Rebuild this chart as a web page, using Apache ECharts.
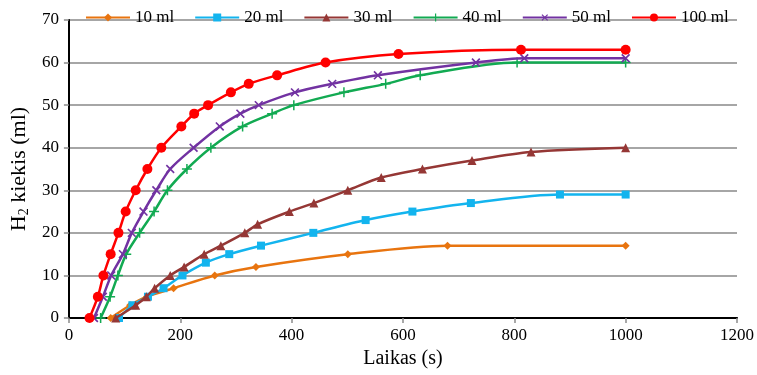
<!DOCTYPE html>
<html>
<head>
<meta charset="utf-8">
<script src="https://cdn.jsdelivr.net/npm/echarts@6/dist/echarts.min.js"></script>
<style>
  html, body { margin: 0; padding: 0; background: #fff; }
  #chart { width: 757px; height: 375px; }
</style>
</head>
<body>
<div id="chart"></div>
<script>
// Hydrogen volume (ml) versus time (s) for each sample volume
const seriesNames = ['10 ml', '20 ml', '30 ml', '40 ml', '50 ml', '100 ml'];

const ml10 = [[75,0],[110,3],[140,5],[188,7],[262,10],[336,12],[501,15],[680,17],[1000,17]];
const ml20 = [[90,0],[114,3],[142,5],[170,7],[204,10],[246,13],[288,15],[345,17],[439,20],[533,23],[617,25],[722,27],[882,29],[1000,29]];
const ml30 = [[84,0],[120,3],[139,5],[154,7],[182,10],[207,12],[243,15],[273,17],[316,20],[339,22],[396,25],[440,27],[501,30],[561,33],[635,35],[724,37],[830,39],[1000,40]];
const ml40 = [[57,0],[74,5],[88,10],[103,15],[127,20],[153,25],[177,30],[212,35],[255,40],[312,45],[365,48],[404,50],[494,53],[569,55],[631,57],[805,60],[1000,60]];
const ml50 = [[45,0],[61,5],[76,10],[97,15],[113,20],[134,25],[157,30],[182,35],[224,40],[271,45],[308,48],[341,50],[406,53],[473,55],[555,57],[731,60],[818,61],[1000,61]];
const ml100 = [[37,0],[52,5],[62,10],[75,15],[89,20],[102,25],[120,30],[141,35],[166,40],[202,45],[225,48],[250,50],[291,53],[323,55],[374,57],[461,60],[592,62],[812,63],[1000,63]];

const xTicks = { min: 0, max: 1200, step: 200 };
const yTicks = { min: 0, max: 70, step: 10 };

const colors = ['#E8740F', '#13B4EE', '#953735', '#12AA52', '#7232A2', '#FF0000'];
const serif = 'Liberation Serif, Times New Roman, serif';

// plus-shaped marker as a filled path; rotated 45 degrees it becomes an x
const plusPath = 'path://M-0.9,-6H0.9V6H-0.9Z M-6,-0.9H6V0.9H-6Z';

const seriesData = [ml10, ml20, ml30, ml40, ml50, ml100];
const symbols = ['diamond', 'rect', 'triangle', plusPath, plusPath, 'circle'];
const symbolSizes = [8, 8, 9, 10, 11, 10];
const symbolRotates = [0, 0, 0, 0, 45, 0];

const series = seriesData.map((d, i) => ({
  name: seriesNames[i],
  type: 'line',
  data: d,
  smooth: 0.3,
  symbol: symbols[i],
  symbolSize: symbolSizes[i],
  symbolRotate: symbolRotates[i],
  showAllSymbol: true,
  lineStyle: { color: colors[i], width: 2.5 },
  itemStyle: { color: colors[i] },
  emphasis: { disabled: true },
  z: 3 + i
}));

const plainNumber = v => String(v);

const chart = echarts.init(document.getElementById('chart'), null, { renderer: 'canvas' });
chart.setOption({
  animation: false,
  backgroundColor: '#ffffff',
  color: colors,
  legend: {
    top: 4,
    left: 80,
    itemWidth: 44,
    itemHeight: 10,
    itemGap: 20,
    textStyle: { fontFamily: serif, fontSize: 17, color: '#000' },
    data: seriesNames
  },
  grid: { left: 68, right: 18, top: 20, bottom: 57 },
  xAxis: [{
    type: 'value',
    min: xTicks.min, max: xTicks.max, interval: xTicks.step,
    name: 'Laikas (s)',
    nameLocation: 'middle',
    nameGap: 29,
    nameTextStyle: { fontFamily: serif, fontSize: 20, color: '#000' },
    axisLine: { lineStyle: { color: '#8c8c8c', width: 2 } },
    axisTick: { show: true, length: 5, lineStyle: { color: '#8c8c8c', width: 1.5 } },
    axisLabel: { fontFamily: serif, fontSize: 17, color: '#000', margin: 9, formatter: plainNumber },
    splitLine: { show: false }
  }, {
    type: 'value', position: 'top',
    min: xTicks.min, max: xTicks.max,
    axisLine: { show: true, lineStyle: { color: '#000', width: 2 } },
    axisTick: { show: false }, axisLabel: { show: false }, splitLine: { show: false }
  }],
  yAxis: [{
    type: 'value',
    min: yTicks.min, max: yTicks.max, interval: yTicks.step,
    name: '{t|H}{s|2}{t| kiekis (ml)}',
    nameLocation: 'middle',
    nameGap: 36,
    nameTextStyle: {
      rich: {
        t: { fontFamily: serif, fontSize: 22, color: '#000' },
        s: { fontFamily: serif, fontSize: 14, color: '#000', padding: [10, 0, 0, 0] }
      }
    },
    axisLine: { show: true, lineStyle: { color: '#8c8c8c', width: 2 } },
    axisTick: { show: true, length: 5, lineStyle: { color: '#8c8c8c', width: 1.5 } },
    axisLabel: { fontFamily: serif, fontSize: 17, color: '#000', margin: 10, formatter: plainNumber },
    splitLine: { show: true, lineStyle: { color: '#a6a6a6', width: 2 } }
  }, {
    type: 'value', position: 'right',
    min: yTicks.min, max: yTicks.max,
    axisLine: { show: true, lineStyle: { color: '#000', width: 2 } },
    axisTick: { show: false }, axisLabel: { show: false }, splitLine: { show: false }
  }],
  series: series
});
</script>
</body>
</html>
